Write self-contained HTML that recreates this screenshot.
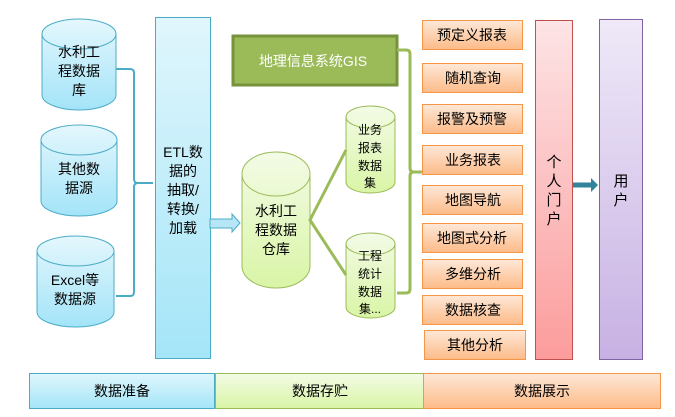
<!DOCTYPE html>
<html><head><meta charset="utf-8"><style>
html,body{margin:0;padding:0;background:#fff;}
svg text{font-family:"Liberation Sans","Noto Sans CJK SC",sans-serif;fill:#000;}
</style></head><body>
<svg width="675" height="412" viewBox="0 0 675 412" xmlns="http://www.w3.org/2000/svg">
<defs>
<linearGradient id="gb" x1="0" y1="0" x2="0" y2="1"><stop offset="0" stop-color="#e4f7fd"/><stop offset="1" stop-color="#a3e4f8"/></linearGradient>
<linearGradient id="gg" x1="0" y1="0" x2="0" y2="1"><stop offset="0" stop-color="#f3fbe6"/><stop offset="1" stop-color="#d9f5a6"/></linearGradient>
<linearGradient id="go" x1="0" y1="0" x2="0" y2="1"><stop offset="0" stop-color="#fde8d8"/><stop offset="1" stop-color="#fdbb88"/></linearGradient>
<linearGradient id="gp" x1="0" y1="0" x2="0" y2="1"><stop offset="0" stop-color="#fde4e6"/><stop offset="1" stop-color="#fc9c9c"/></linearGradient>
<linearGradient id="gv" x1="0" y1="0" x2="0" y2="1"><stop offset="0" stop-color="#efe9f8"/><stop offset="1" stop-color="#c7b1e3"/></linearGradient>
<linearGradient id="gbh" x1="0" y1="0" x2="0" y2="1"><stop offset="0" stop-color="#e0f6fc"/><stop offset="1" stop-color="#a4e5f8"/></linearGradient>
</defs>

<!-- left cylinders -->
<g stroke="#4bacc6" stroke-width="1" fill="url(#gb)">
<path d="M42,34 A37,15 0 0 1 116,34 L116,95 A37,15 0 0 1 42,95 Z"/>
<path d="M42,34 A37,15 0 0 0 116,34" fill="none"/>
<path d="M41,140 A38,15 0 0 1 117,140 L117,201 A38,15 0 0 1 41,201 Z"/>
<path d="M41,140 A38,15 0 0 0 117,140" fill="none"/>
<path d="M37,251 A38.5,15 0 0 1 114,251 L114,312 A38.5,15 0 0 1 37,312 Z"/>
<path d="M37,251 A38.5,15 0 0 0 114,251" fill="none"/>
</g>
<g font-size="14" text-anchor="middle">
<text x="79" y="57">水利工</text><text x="79" y="76">程数据</text><text x="79" y="95">库</text>
<text x="79" y="174">其他数</text><text x="79" y="193">据源</text>
<text x="75" y="285">Excel等</text><text x="75" y="304">数据源</text>
</g>
<!-- blue bracket -->
<path d="M116,69 H130 Q134,69 134,73 V179 Q134,183 138,183 H153 M138,183 Q134,183 134,187 V292 Q134,296 130,296 H116" fill="none" stroke="#4bacc6" stroke-width="2"/>

<!-- ETL -->
<rect x="155.5" y="17.5" width="55" height="341" fill="url(#gbh)" stroke="#4bacc6"/>
<g font-size="14" text-anchor="middle"><text x="183" y="157">ETL数</text><text x="183" y="176">据的</text><text x="183" y="195">抽取/</text><text x="183" y="214">转换/</text><text x="183" y="233">加载</text></g>
<!-- arrow -->
<path d="M210,219 H232 V214 L240,223 L232,232 V228 H210 Z" fill="#b7e6f7" stroke="#4bacc6"/>

<!-- green cylinder -->
<g stroke="#9bbb59" fill="url(#gg)">
<path d="M242,174 A34,22 0 0 1 310,174 L310,266 A34,22 0 0 1 242,266 Z"/>
<path d="M242,174 A34,22 0 0 0 310,174" fill="none"/>
<path d="M346,117 A24.5,11 0 0 1 395,117 L395,182 A24.5,11 0 0 1 346,182 Z"/>
<path d="M346,117 A24.5,11 0 0 0 395,117" fill="none"/>
<path d="M346,244 A24.5,11 0 0 1 395,244 L395,307 A24.5,11 0 0 1 346,307 Z"/>
<path d="M346,244 A24.5,11 0 0 0 395,244" fill="none"/>
</g>
<g font-size="14" text-anchor="middle"><text x="276" y="216">水利工</text><text x="276" y="235">程数据</text><text x="276" y="254">仓库</text></g>
<g font-size="12" text-anchor="middle">
<text x="370" y="134">业务</text><text x="370" y="152">报表</text><text x="370" y="170">数据</text><text x="370" y="187">集</text>
<text x="370" y="260">工程</text><text x="370" y="278">统计</text><text x="370" y="296">数据</text><text x="370" y="313">集...</text>
</g>
<path d="M346,150 L310,220 L346,275" fill="none" stroke="#9bbb59" stroke-width="3"/>

<!-- GIS -->
<rect x="233" y="36" width="164" height="49" fill="#9bbb59" stroke="#76923c" stroke-width="3"/>
<text x="313" y="66" font-size="14" text-anchor="middle" style="fill:#fff">地理信息系统GIS</text>
<!-- green bracket -->
<path d="M397,50 H406 Q410,50 410,54 V168 Q410,172 414,172 H427 M414,172 Q410,172 410,176 V289 Q410,293 406,293 H397" fill="none" stroke="#9bbb59" stroke-width="3"/>

<!-- orange boxes -->
<g fill="url(#go)" stroke="#f79646">
<rect x="422.5" y="20.5" width="100" height="29"/>
<rect x="422.5" y="63.5" width="100" height="29"/>
<rect x="422.5" y="104.5" width="100" height="29"/>
<rect x="422.5" y="145.5" width="100" height="29"/>
<rect x="422.5" y="185.5" width="100" height="29"/>
<rect x="422.5" y="223.5" width="100" height="29"/>
<rect x="422.5" y="259.5" width="100" height="29"/>
<rect x="422.5" y="295.5" width="100" height="29"/>
<rect x="424.5" y="330.5" width="101" height="29"/>
</g>
<g font-size="14" text-anchor="middle">
<text x="472" y="40">预定义报表</text>
<text x="473" y="83">随机查询</text>
<text x="472" y="124">报警及预警</text>
<text x="473" y="165">业务报表</text>
<text x="473" y="205">地图导航</text>
<text x="472" y="243">地图式分析</text>
<text x="473" y="279">多维分析</text>
<text x="473" y="315">数据核查</text>
<text x="475" y="350">其他分析</text>
</g>

<!-- portal -->
<rect x="535.5" y="20.5" width="37" height="339" fill="url(#gp)" stroke="#c0504d"/>
<g font-size="15" text-anchor="middle"><text x="554" y="167">个</text><text x="554" y="186">人</text><text x="554" y="205">门</text><text x="554" y="224">户</text></g>
<path d="M573,182.5 H591 V178 L598,185 L591,192 V187.5 H573 Z" fill="#31849b"/>
<rect x="599.5" y="19.5" width="43" height="340" fill="url(#gv)" stroke="#8064a2"/>
<g font-size="15" text-anchor="middle"><text x="621" y="186">用</text><text x="621" y="205">户</text></g>

<!-- bottom bars -->
<rect x="29.5" y="373.5" width="185" height="35" fill="url(#gbh)" stroke="#4bacc6"/>
<rect x="215.5" y="373.5" width="208" height="35" fill="url(#gg)" stroke="#9bbb59"/>
<rect x="423.5" y="373.5" width="237" height="35" fill="url(#go)" stroke="#f79646"/>
<g font-size="14" text-anchor="middle">
<text x="122" y="396">数据准备</text><text x="320" y="396">数据存贮</text><text x="542" y="396">数据展示</text>
</g>
</svg>
</body></html>
